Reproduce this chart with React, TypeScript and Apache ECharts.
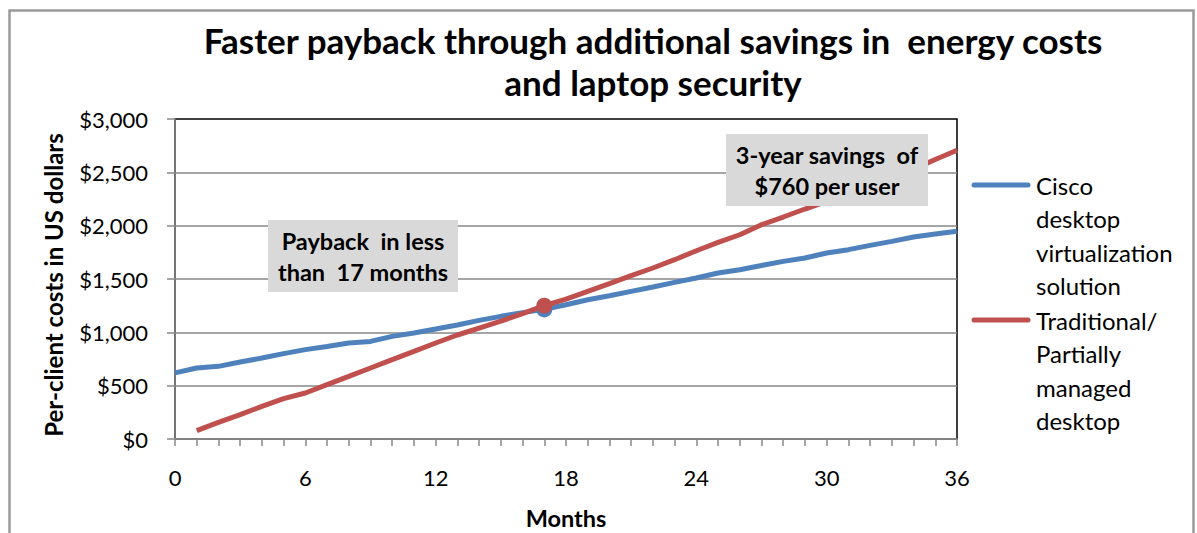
import React, { useEffect, useRef } from "react";
import * as echarts from "echarts";

// ---- data ----
const MONTHS = [
  0, 1, 2, 3, 4, 5, 6, 7, 8, 9, 10, 11, 12, 13, 14, 15, 16, 17, 18, 19, 20, 21,
  22, 23, 24, 25, 26, 27, 28, 29, 30, 31, 32, 33, 34, 35, 36,
];
const CISCO = [
  620, 666, 681, 722, 759, 800, 838, 868, 900, 915, 962, 994, 1031, 1069, 1112,
  1150, 1185, 1215, 1259, 1306, 1343, 1384, 1425, 1468, 1509, 1556, 1587, 1627,
  1665, 1697, 1744, 1775, 1815, 1853, 1894, 1922, 1947,
];
const TRADITIONAL = [
  null, 78, 156, 228, 306, 378, 431, 509, 587, 666, 744, 822, 900, 975, 1040,
  1105, 1175, 1250, 1312, 1384, 1456, 1531, 1603, 1681, 1765, 1843, 1915, 2009,
  2081, 2156, 2228, 2300, 2380, 2455, 2530, 2620, 2707,
];
const LABELED_MONTHS = [0, 6, 12, 18, 24, 30, 36];
const Y_MIN = 0;
const Y_MAX = 3000;
const Y_STEP = 500;
const PAYBACK_MONTH = 17;
const SERIES_NAMES = [
  "Cisco desktop virtualization solution",
  "Traditional/ Partially managed desktop",
];
const LEGEND_LINES = [
  ["Cisco", "desktop", "virtualization", "solution"],
  ["Traditional/", "Partially", "managed", "desktop"],
];
const TITLE = [
  "Faster payback through additional savings in  energy costs",
  "and laptop security",
];
const NOTE_PAYBACK = ["Payback  in less", "than  17 months"];
const NOTE_SAVINGS = ["3-year savings  of", "$760 per user"];

const BLUE = "#4F81BD";
const RED = "#C0504D";
const GRID_GRAY = "#878787";
const FONT = "Lato, 'Open Sans', sans-serif";

function buildData(values: (number | null)[], color: string) {
  const out: any[] = [];
  MONTHS.forEach((m, i) => {
    const v = values[i];
    if (v == null) return;
    if (m === PAYBACK_MONTH) {
      out.push({
        value: [m, v],
        symbol: "circle",
        symbolSize: 16,
        itemStyle: { color },
      });
    } else {
      out.push([m, v]);
    }
  });
  return out;
}

export default function App() {
  const ref = useRef<HTMLDivElement>(null);

  useEffect(() => {
    document.body.style.margin = "0";
    if (!ref.current) return;
    const chart = echarts.init(ref.current, undefined, { renderer: "svg" });

    const legendGraphics: any[] = [];
    const legendColors = [BLUE, RED];
    const legendTop = [185, 320];
    LEGEND_LINES.forEach((lines, k) => {
      legendGraphics.push({
        type: "line",
        shape: { x1: 974, y1: legendTop[k], x2: 1028, y2: legendTop[k] },
        style: { stroke: legendColors[k], lineWidth: 5, lineCap: "round" },
      });
      legendGraphics.push({
        type: "text",
        x: 1036,
        y: legendTop[k] - 16.75,
        style: {
          text: lines.join("\n"),
          fontFamily: FONT,
          fontSize: 24,
          lineHeight: 33.5,
          fill: "#000",
          textAlign: "left",
          textVerticalAlign: "top",
        },
      });
    });

    const noteBox = (
      x: number,
      y: number,
      w: number,
      h: number,
      lines: string[]
    ) => [
      {
        type: "rect",
        shape: { x, y, width: w, height: h },
        style: { fill: "#D9D9D9" },
        z: 10,
      },
      {
        type: "text",
        x: x + w / 2,
        y: y + h / 2,
        z: 11,
        style: {
          text: lines.join("\n"),
          fontFamily: FONT,
          fontWeight: "bold",
          fontSize: 23.5,
          lineHeight: 31,
          fill: "#000",
          textAlign: "center",
          textVerticalAlign: "middle",
        },
      },
    ];

    chart.setOption({
      animation: false,
      backgroundColor: "#fff",
      title: {
        text: TITLE.join("\n"),
        left: 653,
        top: 19,
        padding: 0,
        textAlign: "center",
        textStyle: {
          fontFamily: FONT,
          fontWeight: "bold",
          fontSize: 35,
          lineHeight: 42,
          color: "#000",
        },
      },
      grid: {
        left: 175,
        top: 119,
        width: 782,
        height: 320,
        show: true,
        borderColor: "#000",
        borderWidth: 1.5,
        backgroundColor: "transparent",
      },
      xAxis: {
        type: "value",
        min: 0,
        max: 36,
        interval: 1,
        axisLine: { show: true, lineStyle: { color: GRID_GRAY, width: 1.5 } },
        axisTick: {
          show: true,
          inside: false,
          length: 7,
          lineStyle: { color: GRID_GRAY, width: 1.5 },
        },
        splitLine: { show: false },
        axisLabel: {
          margin: 27,
          fontFamily: FONT,
          fontSize: 22,
          color: "#000",
          showMaxLabel: true,
          formatter: (v: number) =>
            LABELED_MONTHS.indexOf(v) >= 0 ? String(v) : "",
        },
      },
      yAxis: {
        type: "value",
        min: Y_MIN,
        max: Y_MAX,
        interval: Y_STEP,
        axisLine: { show: true, lineStyle: { color: GRID_GRAY, width: 1.5 } },
        axisTick: {
          show: true,
          inside: false,
          length: 8,
          lineStyle: { color: GRID_GRAY, width: 1.5 },
        },
        splitLine: {
          show: true,
          showMaxLine: false,
          lineStyle: { color: GRID_GRAY, width: 1.5 },
        },
        axisLabel: {
          margin: 27,
          fontFamily: FONT,
          fontSize: 22,
          color: "#000",
          formatter: (v: number) => "$" + v.toLocaleString("en-US"),
        },
      },
      series: [
        {
          name: SERIES_NAMES[0],
          type: "line",
          symbol: "none",
          showSymbol: true,
          z: 3,
          lineStyle: { color: BLUE, width: 5 },
          itemStyle: { color: BLUE },
          emphasis: { disabled: true },
          data: buildData(CISCO, BLUE),
        },
        {
          name: SERIES_NAMES[1],
          type: "line",
          symbol: "none",
          showSymbol: true,
          z: 4,
          lineStyle: { color: RED, width: 5 },
          itemStyle: { color: RED },
          emphasis: { disabled: true },
          data: buildData(TRADITIONAL, RED),
        },
      ],
      graphic: [
        {
          type: "rect",
          shape: { x: 9.5, y: 10.5, width: 1184, height: 600 },
          style: { fill: "none", stroke: "#9A9A9A", lineWidth: 2.5 },
          silent: true,
        },
        {
          type: "text",
          x: 53,
          y: 285,
          rotation: Math.PI / 2,
          style: {
            text: "Per-client costs in US dollars",
            fontFamily: FONT,
            fontWeight: "bold",
            fontSize: 24,
            fill: "#000",
            textAlign: "center",
            textVerticalAlign: "middle",
          },
        },
        {
          type: "text",
          x: 566,
          y: 518,
          style: {
            text: "Months",
            fontFamily: FONT,
            fontWeight: "bold",
            fontSize: 23.5,
            fill: "#000",
            textAlign: "center",
            textVerticalAlign: "middle",
          },
        },
        ...noteBox(268, 220, 190, 72, NOTE_PAYBACK),
        ...noteBox(726, 134, 202, 72, NOTE_SAVINGS),
        ...legendGraphics,
      ],
    });

    return () => chart.dispose();
  }, []);

  return <div ref={ref} style={{ width: 1197, height: 533 }} />;
}
